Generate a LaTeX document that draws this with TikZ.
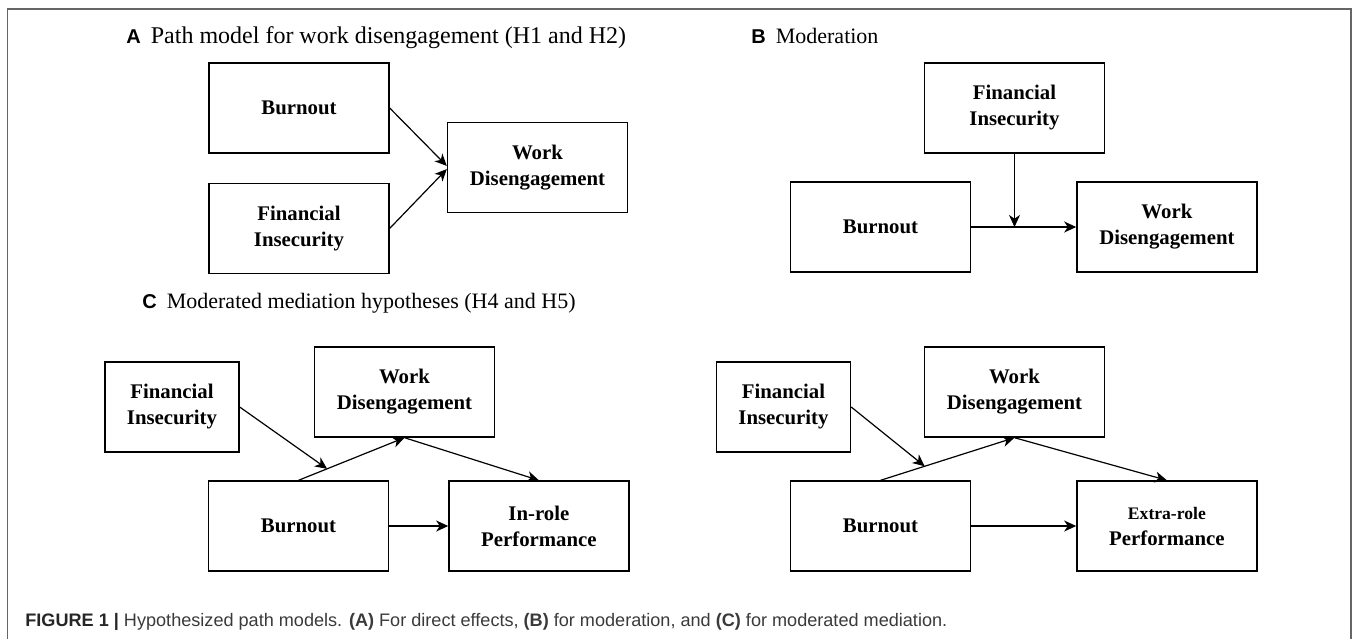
\documentclass[tikz,border=0pt]{standalone}
\usepackage{fontspec}
\setmainfont{Liberation Serif}
\setsansfont{Liberation Sans}
\usepackage{tikz}
\usetikzlibrary{arrows.meta, positioning}
\usepackage{xcolor}
\definecolor{framegray}{HTML}{666666}
\definecolor{captext}{HTML}{3A3A3A}
\newcommand{\paneltag}[1]{{\sffamily\bfseries\fontsize{10}{12}\selectfont #1}\hspace{5pt}}

\begin{document}
\begin{tikzpicture}[
    x=0.5pt, y=-0.5pt,
    every node/.style={font=\fontsize{10}{13}\selectfont},
    box/.style={draw, line width=0.7pt, align=center, inner sep=2pt,
                minimum width=90pt, minimum height=45pt,
                font=\fontsize{10.4}{13}\selectfont\bfseries},
    smallbox/.style={box, minimum width=67pt},
    title/.style={anchor=base west, inner sep=0pt, font=\fontsize{11}{13}\selectfont},
    caption/.style={anchor=base west, inner sep=0pt, text=captext,
                    font=\sffamily\fontsize{9.05}{11}\selectfont},
    arrow/.style={-{Stealth[length=6pt, width=5.5pt, inset=1.8pt]}, line width=0.6pt}
]
    \useasboundingbox (0,0) rectangle (1357,639);
    \draw[framegray, line width=0.75pt] (7.5,639) -- (7.5,9) -- (1351,9) -- (1351,639);

    % panel titles
    \node[title, font=\fontsize{12}{14}\selectfont] (titA) at (126,43)
        {\paneltag{A}Path model for work disengagement (H1 and H2)};
    \node[title] (titB) at (751,43) {\paneltag{B}Moderation};
    \node[title] (titC) at (142,308) {\paneltag{C}Moderated mediation hypotheses (H4 and H5)};

    % A: direct effects
    \node[box] (burnA) at (299,108) {Burnout};
    \node[box, below=14.5pt of burnA] (finA) {Financial\\Insecurity};
    \node[box] (workA) at (537.5,167.5) {Work\\Disengagement};

    \draw[arrow] (burnA.east) -- ([yshift=0.8pt]workA.west);
    \draw[arrow] (finA.east) -- ([yshift=-0.8pt]workA.west);

    % B: moderation
    \node[box] (finB) at (1014.5,108) {Financial\\Insecurity};
    \node[box] (burnB) at (880.5,227) {Burnout};
    \node[box, right=52.5pt of burnB] (workB) {Work\\Disengagement};
    \coordinate (modB) at (finB.south |- burnB.east);

    \draw[arrow] (burnB) -- (workB);
    \draw[arrow] (finB) -- (modB);

    % C: moderated mediation, in-role
    \node[box] (burnC) at (298.5,526) {Burnout};
    \node[box, right=29.5pt of burnC] (inrole) {In-role\\Performance};
    \node[box] (workC) at (404.5,392) {Work\\Disengagement};
    \node[smallbox] (finC) at (172,407) {Financial\\Insecurity};

    \draw[arrow] (burnC.north) -- coordinate[pos=0.27] (modC) (workC.south);
    \draw[arrow] (workC.south) -- (inrole.north);
    \draw[arrow] (finC.east) -- (modC);
    \draw[arrow] (burnC) -- (inrole);

    % C: moderated mediation, extra-role
    \node[box] (burnD) at (880.5,526) {Burnout};
    \node[box, right=52.5pt of burnD] (extra)
        {{\fontsize{8.8}{11}\selectfont Extra-role}\\Performance};
    \node[box] (workD) at (1014.5,392) {Work\\Disengagement};
    \node[smallbox] (finD) at (783.5,407) {Financial\\Insecurity};

    \draw[arrow] (burnD.north) -- coordinate[pos=0.33] (modD) (workD.south);
    \draw[arrow] (workD.south) -- (extra.north);
    \draw[arrow] (finD.east) -- (modD);
    \draw[arrow] (burnD) -- (extra);

    % figure caption
    \node[caption] (cap) at (25,626) {{\bfseries\color{black!85}FIGURE 1 \textbar} Hypothesized path models.
        {\bfseries (A)} For direct effects, {\bfseries (B)} for moderation, and {\bfseries (C)} for moderated mediation.};
\end{tikzpicture}
\end{document}
